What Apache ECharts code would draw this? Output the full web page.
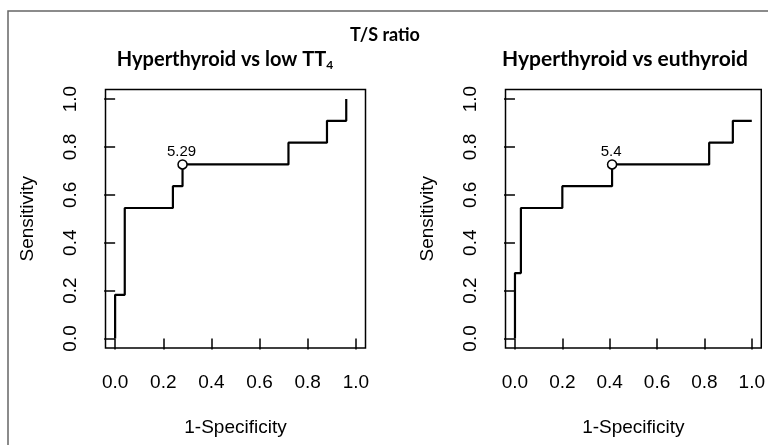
<!DOCTYPE html>
<html>
<head>
<meta charset="utf-8">
<script src="https://cdn.jsdelivr.net/npm/echarts@6/dist/echarts.min.js"></script>
<style>
  html, body { margin: 0; padding: 0; background: #fff; }
  #chart { width: 768px; height: 445px; }
</style>
</head>
<body>
<div id="chart"></div>
<script>
// ROC vertices (1-specificity, sensitivity)
var lowFpr = [0, 0, 0.04, 0.04, 0.24, 0.24, 0.28, 0.28, 0.72, 0.72, 0.88, 0.88, 0.96, 0.96];
var lowTpr = [0, 0.182, 0.182, 0.545, 0.545, 0.636, 0.636, 0.727, 0.727, 0.818, 0.818, 0.909, 0.909, 1.0];
var euFpr = [0, 0, 0.025, 0.025, 0.2, 0.2, 0.41, 0.41, 0.82, 0.82, 0.92, 0.92, 1.0];
var euTpr = [0, 0.273, 0.273, 0.545, 0.545, 0.636, 0.636, 0.727, 0.727, 0.818, 0.818, 0.909, 0.909];
// best cut-off points
var lowCut = [0.28, 0.727, '5.29'];
var euCut = [0.41, 0.727, '5.4'];
var ticks = [0, 0.2, 0.4, 0.6, 0.8, 1.0];

var myChart = echarts.init(document.getElementById('chart'));

function pairs(xs, ys) {
    var out = [];
    for (var i = 0; i < xs.length; i++) out.push([xs[i], ys[i]]);
    return out;
}

function xAx(idx) {
    return {
        type: 'value', gridIndex: idx, min: -0.04, max: 1.04,
        name: '1-Specificity', nameLocation: 'middle', nameGap: 70,
        nameTextStyle: { color: '#000', fontSize: 19, fontFamily: 'Liberation Sans' },
        axisLine: { show: false },
        splitLine: { show: false },
        axisTick: { show: true, length: 11, customValues: ticks, lineStyle: { color: '#000', width: 1.5 } },
        axisLabel: {
            customValues: ticks, margin: 25, color: '#000', fontSize: 19, fontFamily: 'Liberation Sans',
            formatter: function (v) { return v.toFixed(1); }
        }
    };
}
function yAx(idx) {
    return {
        type: 'value', gridIndex: idx, min: -0.04, max: 1.04,
        name: 'Sensitivity', nameLocation: 'middle', nameGap: 68,
        nameTextStyle: { color: '#000', fontSize: 19, fontFamily: 'Liberation Sans' },
        axisLine: { show: false },
        splitLine: { show: false },
        axisTick: { show: true, length: 11, customValues: ticks, lineStyle: { color: '#000', width: 1.5 } },
        axisLabel: {
            customValues: ticks, margin: 25, rotate: 90, color: '#000', fontSize: 19, fontFamily: 'Liberation Sans',
            formatter: function (v) { return v.toFixed(1); }
        }
    };
}
function curve(idx, xs, ys) {
    return {
        type: 'line', xAxisIndex: idx, yAxisIndex: idx,
        data: pairs(xs, ys), showSymbol: false, silent: true,
        lineStyle: { color: '#000', width: 2.2 }, z: 2
    };
}
function cut(idx, c) {
    return {
        type: 'scatter', xAxisIndex: idx, yAxisIndex: idx,
        data: [[c[0], c[1]]], symbol: 'circle', symbolSize: 9,
        itemStyle: { color: '#fff', borderColor: '#000', borderWidth: 1.5, opacity: 1 },
        label: {
            show: true, position: 'top', distance: 0, offset: [-1, 0], color: '#000',
            fontSize: 15, fontFamily: 'Liberation Sans',
            formatter: function () { return c[2]; }
        },
        z: 3
    };
}

option = {
    backgroundColor: '#fff',
    animation: false,
    title: [{
        text: 'T/S ratio', left: 380, top: 21, textAlign: 'center',
        textStyle: { color: '#000', fontSize: 18, fontWeight: 'bold', fontFamily: 'Lato' }
    }, {
        text: '{b|Hyperthyroid vs low TT}{s|4}', left: 220, top: 44, textAlign: 'center',
        textStyle: {
            rich: {
                b: { color: '#000', fontSize: 20, fontWeight: 'bold', fontFamily: 'Lato' },
                s: { color: '#000', fontSize: 12, fontWeight: 'bold', fontFamily: 'Lato', padding: [10, 0, 0, 0] }
            }
        }
    }, {
        text: 'Hyperthyroid vs euthyroid', left: 620, top: 44, textAlign: 'center',
        textStyle: { color: '#000', fontSize: 21, fontWeight: 'bold', fontFamily: 'Lato' }
    }],
    graphic: [{
        type: 'rect', silent: true,
        shape: { x: 8, y: 11, width: 800, height: 500 },
        style: { fill: 'none', stroke: '#666', lineWidth: 1.5 }
    }],
    grid: [
        { left: 105.5, top: 89.5, width: 260, height: 258.5, show: true, borderColor: '#000', borderWidth: 1.5, backgroundColor: 'transparent' },
        { left: 505.5, top: 89.5, width: 260, height: 258.5, show: true, borderColor: '#000', borderWidth: 1.5, backgroundColor: 'transparent' }
    ],
    xAxis: [xAx(0), xAx(1)],
    yAxis: [yAx(0), yAx(1)],
    series: [
        curve(0, lowFpr, lowTpr),
        cut(0, lowCut),
        curve(1, euFpr, euTpr),
        cut(1, euCut)
    ]
};
myChart.setOption(option);
</script>
</body>
</html>
